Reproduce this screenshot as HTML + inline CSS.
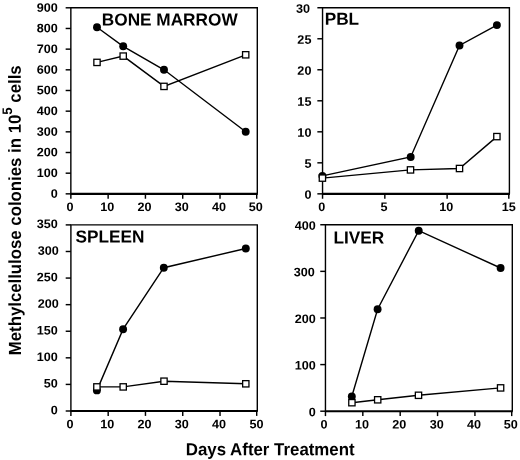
<!DOCTYPE html>
<html><head><meta charset="utf-8"><title>Figure</title>
<style>
html,body{margin:0;padding:0;background:#fff;}
body{width:520px;height:460px;overflow:hidden;}
svg{display:block;will-change:transform;}
text{font-family:"Liberation Sans", sans-serif;font-weight:bold;fill:#000;text-rendering:geometricPrecision;}
.tk{font-size:12.2px;}
.tt{font-size:16.8px;}
.pt{font-size:16.7px;}
</style></head><body>
<svg width="520" height="460" viewBox="0 0 520 460">
<rect x="0" y="0" width="520" height="460" fill="#fff"/>
<g>
<path d="M70.85 193.85 L70.85 7.80 L257.30 7.80 L257.30 193.85" fill="none" stroke="#000" stroke-width="1.4"/>
<line x1="70.35" y1="193.85" x2="257.80" y2="193.85" stroke="#000" stroke-width="2.1"/>
<line x1="65.65" y1="193.85" x2="70.85" y2="193.85" stroke="#000" stroke-width="1.45"/><text class="tk" transform="translate(57.70,197.70) rotate(0.03) scale(1.035,1)" text-anchor="end">0</text>
<line x1="65.65" y1="173.18" x2="70.85" y2="173.18" stroke="#000" stroke-width="1.45"/><text class="tk" transform="translate(57.70,177.03) rotate(0.03) scale(1.035,1)" text-anchor="end">100</text>
<line x1="65.65" y1="152.51" x2="70.85" y2="152.51" stroke="#000" stroke-width="1.45"/><text class="tk" transform="translate(57.70,156.36) rotate(0.03) scale(1.035,1)" text-anchor="end">200</text>
<line x1="65.65" y1="131.83" x2="70.85" y2="131.83" stroke="#000" stroke-width="1.45"/><text class="tk" transform="translate(57.70,135.68) rotate(0.03) scale(1.035,1)" text-anchor="end">300</text>
<line x1="65.65" y1="111.16" x2="70.85" y2="111.16" stroke="#000" stroke-width="1.45"/><text class="tk" transform="translate(57.70,115.01) rotate(0.03) scale(1.035,1)" text-anchor="end">400</text>
<line x1="65.65" y1="90.49" x2="70.85" y2="90.49" stroke="#000" stroke-width="1.45"/><text class="tk" transform="translate(57.70,94.34) rotate(0.03) scale(1.035,1)" text-anchor="end">500</text>
<line x1="65.65" y1="69.82" x2="70.85" y2="69.82" stroke="#000" stroke-width="1.45"/><text class="tk" transform="translate(57.70,73.67) rotate(0.03) scale(1.035,1)" text-anchor="end">600</text>
<line x1="65.65" y1="49.14" x2="70.85" y2="49.14" stroke="#000" stroke-width="1.45"/><text class="tk" transform="translate(57.70,52.99) rotate(0.03) scale(1.035,1)" text-anchor="end">700</text>
<line x1="65.65" y1="28.47" x2="70.85" y2="28.47" stroke="#000" stroke-width="1.45"/><text class="tk" transform="translate(57.70,32.32) rotate(0.03) scale(1.035,1)" text-anchor="end">800</text>
<line x1="65.65" y1="7.80" x2="70.85" y2="7.80" stroke="#000" stroke-width="1.45"/><text class="tk" transform="translate(57.70,11.65) rotate(0.03) scale(1.035,1)" text-anchor="end">900</text>
<line x1="70.85" y1="193.85" x2="70.85" y2="198.75" stroke="#000" stroke-width="1.45"/><text class="tk" transform="translate(69.95,211.05) rotate(0.03) scale(1.035,1)" text-anchor="middle">0</text>
<line x1="108.14" y1="193.85" x2="108.14" y2="198.75" stroke="#000" stroke-width="1.45"/><text class="tk" transform="translate(107.24,211.05) rotate(0.03) scale(1.035,1)" text-anchor="middle">10</text>
<line x1="145.43" y1="193.85" x2="145.43" y2="198.75" stroke="#000" stroke-width="1.45"/><text class="tk" transform="translate(144.53,211.05) rotate(0.03) scale(1.035,1)" text-anchor="middle">20</text>
<line x1="182.72" y1="193.85" x2="182.72" y2="198.75" stroke="#000" stroke-width="1.45"/><text class="tk" transform="translate(181.82,211.05) rotate(0.03) scale(1.035,1)" text-anchor="middle">30</text>
<line x1="220.01" y1="193.85" x2="220.01" y2="198.75" stroke="#000" stroke-width="1.45"/><text class="tk" transform="translate(219.11,211.05) rotate(0.03) scale(1.035,1)" text-anchor="middle">40</text>
<line x1="256.70" y1="193.85" x2="256.70" y2="198.75" stroke="#000" stroke-width="1.45"/><text class="tk" transform="translate(255.80,211.05) rotate(0.03) scale(1.035,1)" text-anchor="middle">50</text>
<text class="pt" transform="translate(101.80,25.50) rotate(0.03) scale(1.032,1.04)">BONE MARROW</text>
<polyline points="97.00,27.20 123.20,46.30 164.00,69.80 245.70,131.80" fill="none" stroke="#000" stroke-width="1.4"/>
<circle cx="97.00" cy="27.20" r="3.95" fill="#000"/><circle cx="123.20" cy="46.30" r="3.95" fill="#000"/><circle cx="164.00" cy="69.80" r="3.95" fill="#000"/><circle cx="245.70" cy="131.80" r="3.95" fill="#000"/>
<polyline points="97.00,62.40 123.20,56.10 164.00,86.40 245.70,54.80" fill="none" stroke="#000" stroke-width="1.4"/>
<rect x="93.85" y="59.25" width="6.3" height="6.3" fill="#fff" stroke="#000" stroke-width="1.3"/><rect x="120.05" y="52.95" width="6.3" height="6.3" fill="#fff" stroke="#000" stroke-width="1.3"/><rect x="160.85" y="83.25" width="6.3" height="6.3" fill="#fff" stroke="#000" stroke-width="1.3"/><rect x="242.55" y="51.65" width="6.3" height="6.3" fill="#fff" stroke="#000" stroke-width="1.3"/>
</g>
<g>
<path d="M322.55 193.85 L322.55 7.75 L509.40 7.75 L509.40 193.85" fill="none" stroke="#000" stroke-width="1.4"/>
<line x1="322.05" y1="193.85" x2="509.90" y2="193.85" stroke="#000" stroke-width="2.1"/>
<line x1="317.35" y1="193.85" x2="322.55" y2="193.85" stroke="#000" stroke-width="1.45"/><text class="tk" transform="translate(311.40,198.80) rotate(0.03) scale(1.035,1)" text-anchor="end">0</text>
<line x1="317.35" y1="162.83" x2="322.55" y2="162.83" stroke="#000" stroke-width="1.45"/><text class="tk" transform="translate(311.40,167.78) rotate(0.03) scale(1.035,1)" text-anchor="end">5</text>
<line x1="317.35" y1="131.82" x2="322.55" y2="131.82" stroke="#000" stroke-width="1.45"/><text class="tk" transform="translate(311.40,136.77) rotate(0.03) scale(1.035,1)" text-anchor="end">10</text>
<line x1="317.35" y1="100.80" x2="322.55" y2="100.80" stroke="#000" stroke-width="1.45"/><text class="tk" transform="translate(311.40,105.75) rotate(0.03) scale(1.035,1)" text-anchor="end">15</text>
<line x1="317.35" y1="69.78" x2="322.55" y2="69.78" stroke="#000" stroke-width="1.45"/><text class="tk" transform="translate(311.40,74.73) rotate(0.03) scale(1.035,1)" text-anchor="end">20</text>
<line x1="317.35" y1="38.77" x2="322.55" y2="38.77" stroke="#000" stroke-width="1.45"/><text class="tk" transform="translate(311.40,43.72) rotate(0.03) scale(1.035,1)" text-anchor="end">25</text>
<line x1="317.35" y1="7.75" x2="322.55" y2="7.75" stroke="#000" stroke-width="1.45"/><text class="tk" transform="translate(310.00,12.70) rotate(0.03) scale(1.035,1)" text-anchor="end">30</text>
<line x1="322.55" y1="193.85" x2="322.55" y2="198.75" stroke="#000" stroke-width="1.45"/><text class="tk" transform="translate(321.65,211.05) rotate(0.03) scale(1.035,1)" text-anchor="middle">0</text>
<line x1="384.83" y1="193.85" x2="384.83" y2="198.75" stroke="#000" stroke-width="1.45"/><text class="tk" transform="translate(383.93,211.05) rotate(0.03) scale(1.035,1)" text-anchor="middle">5</text>
<line x1="447.12" y1="193.85" x2="447.12" y2="198.75" stroke="#000" stroke-width="1.45"/><text class="tk" transform="translate(446.22,211.05) rotate(0.03) scale(1.035,1)" text-anchor="middle">10</text>
<line x1="508.80" y1="193.85" x2="508.80" y2="198.75" stroke="#000" stroke-width="1.45"/><text class="tk" transform="translate(508.70,211.05) rotate(0.03) scale(1.035,1)" text-anchor="middle">15</text>
<text class="pt" transform="translate(324.70,24.70) rotate(0.03) scale(1.032,1.04)">PBL</text>
<polyline points="322.40,175.90 410.70,157.00 459.50,45.50 496.90,25.10" fill="none" stroke="#000" stroke-width="1.4"/>
<circle cx="322.40" cy="175.90" r="3.95" fill="#000"/><circle cx="410.70" cy="157.00" r="3.95" fill="#000"/><circle cx="459.50" cy="45.50" r="3.95" fill="#000"/><circle cx="496.90" cy="25.10" r="3.95" fill="#000"/>
<polyline points="322.40,178.10 410.50,169.90 459.50,168.50 496.90,136.60" fill="none" stroke="#000" stroke-width="1.4"/>
<rect x="319.25" y="174.95" width="6.3" height="6.3" fill="#fff" stroke="#000" stroke-width="1.3"/><rect x="407.35" y="166.75" width="6.3" height="6.3" fill="#fff" stroke="#000" stroke-width="1.3"/><rect x="456.35" y="165.35" width="6.3" height="6.3" fill="#fff" stroke="#000" stroke-width="1.3"/><rect x="493.75" y="133.45" width="6.3" height="6.3" fill="#fff" stroke="#000" stroke-width="1.3"/>
</g>
<g>
<path d="M70.90 411.00 L70.90 224.90 L257.30 224.90 L257.30 411.00" fill="none" stroke="#000" stroke-width="1.4"/>
<line x1="70.40" y1="411.00" x2="257.80" y2="411.00" stroke="#000" stroke-width="2.1"/>
<line x1="65.70" y1="411.00" x2="70.90" y2="411.00" stroke="#000" stroke-width="1.45"/><text class="tk" transform="translate(57.70,414.15) rotate(0.03) scale(1.035,1)" text-anchor="end">0</text>
<line x1="65.70" y1="384.41" x2="70.90" y2="384.41" stroke="#000" stroke-width="1.45"/><text class="tk" transform="translate(57.70,387.56) rotate(0.03) scale(1.035,1)" text-anchor="end">50</text>
<line x1="65.70" y1="357.83" x2="70.90" y2="357.83" stroke="#000" stroke-width="1.45"/><text class="tk" transform="translate(57.70,360.98) rotate(0.03) scale(1.035,1)" text-anchor="end">100</text>
<line x1="65.70" y1="331.24" x2="70.90" y2="331.24" stroke="#000" stroke-width="1.45"/><text class="tk" transform="translate(57.70,334.39) rotate(0.03) scale(1.035,1)" text-anchor="end">150</text>
<line x1="65.70" y1="304.66" x2="70.90" y2="304.66" stroke="#000" stroke-width="1.45"/><text class="tk" transform="translate(58.70,307.81) rotate(0.03) scale(1.035,1)" text-anchor="end">200</text>
<line x1="65.70" y1="278.07" x2="70.90" y2="278.07" stroke="#000" stroke-width="1.45"/><text class="tk" transform="translate(57.70,281.22) rotate(0.03) scale(1.035,1)" text-anchor="end">250</text>
<line x1="65.70" y1="251.49" x2="70.90" y2="251.49" stroke="#000" stroke-width="1.45"/><text class="tk" transform="translate(58.70,254.64) rotate(0.03) scale(1.035,1)" text-anchor="end">300</text>
<line x1="65.70" y1="224.90" x2="70.90" y2="224.90" stroke="#000" stroke-width="1.45"/><text class="tk" transform="translate(57.70,228.05) rotate(0.03) scale(1.035,1)" text-anchor="end">350</text>
<line x1="70.90" y1="411.00" x2="70.90" y2="415.90" stroke="#000" stroke-width="1.45"/><text class="tk" transform="translate(70.00,428.20) rotate(0.03) scale(1.035,1)" text-anchor="middle">0</text>
<line x1="108.18" y1="411.00" x2="108.18" y2="415.90" stroke="#000" stroke-width="1.45"/><text class="tk" transform="translate(107.28,428.20) rotate(0.03) scale(1.035,1)" text-anchor="middle">10</text>
<line x1="145.46" y1="411.00" x2="145.46" y2="415.90" stroke="#000" stroke-width="1.45"/><text class="tk" transform="translate(144.56,428.20) rotate(0.03) scale(1.035,1)" text-anchor="middle">20</text>
<line x1="182.74" y1="411.00" x2="182.74" y2="415.90" stroke="#000" stroke-width="1.45"/><text class="tk" transform="translate(181.84,428.20) rotate(0.03) scale(1.035,1)" text-anchor="middle">30</text>
<line x1="220.02" y1="411.00" x2="220.02" y2="415.90" stroke="#000" stroke-width="1.45"/><text class="tk" transform="translate(219.12,428.20) rotate(0.03) scale(1.035,1)" text-anchor="middle">40</text>
<line x1="256.70" y1="411.00" x2="256.70" y2="415.90" stroke="#000" stroke-width="1.45"/><text class="tk" transform="translate(256.40,428.20) rotate(0.03) scale(1.035,1)" text-anchor="middle">50</text>
<text class="pt" transform="translate(75.60,242.50) rotate(0.03) scale(1.032,1.04)">SPLEEN</text>
<polyline points="96.90,390.40 123.10,329.20 163.80,267.70 245.80,248.50" fill="none" stroke="#000" stroke-width="1.4"/>
<circle cx="96.90" cy="390.40" r="3.95" fill="#000"/><circle cx="123.10" cy="329.20" r="3.95" fill="#000"/><circle cx="163.80" cy="267.70" r="3.95" fill="#000"/><circle cx="245.80" cy="248.50" r="3.95" fill="#000"/>
<polyline points="96.90,386.90 123.20,386.90 164.00,381.20 245.80,383.80" fill="none" stroke="#000" stroke-width="1.4"/>
<rect x="93.75" y="383.75" width="6.3" height="6.3" fill="#fff" stroke="#000" stroke-width="1.3"/><rect x="120.05" y="383.75" width="6.3" height="6.3" fill="#fff" stroke="#000" stroke-width="1.3"/><rect x="160.85" y="378.05" width="6.3" height="6.3" fill="#fff" stroke="#000" stroke-width="1.3"/><rect x="242.65" y="380.65" width="6.3" height="6.3" fill="#fff" stroke="#000" stroke-width="1.3"/>
</g>
<g>
<path d="M325.45 411.20 L325.45 224.75 L512.30 224.75 L512.30 411.20" fill="none" stroke="#000" stroke-width="1.4"/>
<line x1="324.95" y1="411.20" x2="512.80" y2="411.20" stroke="#000" stroke-width="2.1"/>
<line x1="320.25" y1="411.20" x2="325.45" y2="411.20" stroke="#000" stroke-width="1.45"/><text class="tk" transform="translate(315.70,416.15) rotate(0.03) scale(1.035,1)" text-anchor="end">0</text>
<line x1="320.25" y1="364.59" x2="325.45" y2="364.59" stroke="#000" stroke-width="1.45"/><text class="tk" transform="translate(315.70,369.54) rotate(0.03) scale(1.035,1)" text-anchor="end">100</text>
<line x1="320.25" y1="317.98" x2="325.45" y2="317.98" stroke="#000" stroke-width="1.45"/><text class="tk" transform="translate(315.70,322.93) rotate(0.03) scale(1.035,1)" text-anchor="end">200</text>
<line x1="320.25" y1="271.36" x2="325.45" y2="271.36" stroke="#000" stroke-width="1.45"/><text class="tk" transform="translate(314.70,276.31) rotate(0.03) scale(1.035,1)" text-anchor="end">300</text>
<line x1="320.25" y1="224.75" x2="325.45" y2="224.75" stroke="#000" stroke-width="1.45"/><text class="tk" transform="translate(315.70,229.70) rotate(0.03) scale(1.035,1)" text-anchor="end">400</text>
<line x1="325.45" y1="411.20" x2="325.45" y2="416.10" stroke="#000" stroke-width="1.45"/><text class="tk" transform="translate(324.05,428.40) rotate(0.03) scale(1.035,1)" text-anchor="middle">0</text>
<line x1="362.82" y1="411.20" x2="362.82" y2="416.10" stroke="#000" stroke-width="1.45"/><text class="tk" transform="translate(361.92,428.40) rotate(0.03) scale(1.035,1)" text-anchor="middle">10</text>
<line x1="400.19" y1="411.20" x2="400.19" y2="416.10" stroke="#000" stroke-width="1.45"/><text class="tk" transform="translate(399.29,428.40) rotate(0.03) scale(1.035,1)" text-anchor="middle">20</text>
<line x1="437.56" y1="411.20" x2="437.56" y2="416.10" stroke="#000" stroke-width="1.45"/><text class="tk" transform="translate(436.66,428.40) rotate(0.03) scale(1.035,1)" text-anchor="middle">30</text>
<line x1="474.93" y1="411.20" x2="474.93" y2="416.10" stroke="#000" stroke-width="1.45"/><text class="tk" transform="translate(474.03,428.40) rotate(0.03) scale(1.035,1)" text-anchor="middle">40</text>
<line x1="511.70" y1="411.20" x2="511.70" y2="416.10" stroke="#000" stroke-width="1.45"/><text class="tk" transform="translate(510.80,428.40) rotate(0.03) scale(1.035,1)" text-anchor="middle">50</text>
<text class="pt" transform="translate(333.40,243.40) rotate(0.03) scale(1.032,1.04)">LIVER</text>
<polyline points="351.80,396.50 377.60,309.20 418.70,230.70 500.60,268.00" fill="none" stroke="#000" stroke-width="1.4"/>
<circle cx="351.80" cy="396.50" r="3.95" fill="#000"/><circle cx="377.60" cy="309.20" r="3.95" fill="#000"/><circle cx="418.70" cy="230.70" r="3.95" fill="#000"/><circle cx="500.60" cy="268.00" r="3.95" fill="#000"/>
<polyline points="351.90,402.70 377.70,399.80 418.50,395.30 500.60,387.90" fill="none" stroke="#000" stroke-width="1.4"/>
<rect x="348.75" y="399.55" width="6.3" height="6.3" fill="#fff" stroke="#000" stroke-width="1.3"/><rect x="374.55" y="396.65" width="6.3" height="6.3" fill="#fff" stroke="#000" stroke-width="1.3"/><rect x="415.35" y="392.15" width="6.3" height="6.3" fill="#fff" stroke="#000" stroke-width="1.3"/><rect x="497.45" y="384.75" width="6.3" height="6.3" fill="#fff" stroke="#000" stroke-width="1.3"/>
</g>
<text class="tt" transform="translate(20.9,210.3) rotate(-90.03) scale(1,1.045)" text-anchor="middle">Methylcellulose colonies in 10<tspan font-size="13.2px" dy="-8.5">5</tspan><tspan dy="8.5"> cells</tspan></text>
<text class="tt" transform="translate(270.2,455.2) rotate(0.03) scale(1.004,1.04)" text-anchor="middle">Days After Treatment</text>
</svg>
</body></html>
